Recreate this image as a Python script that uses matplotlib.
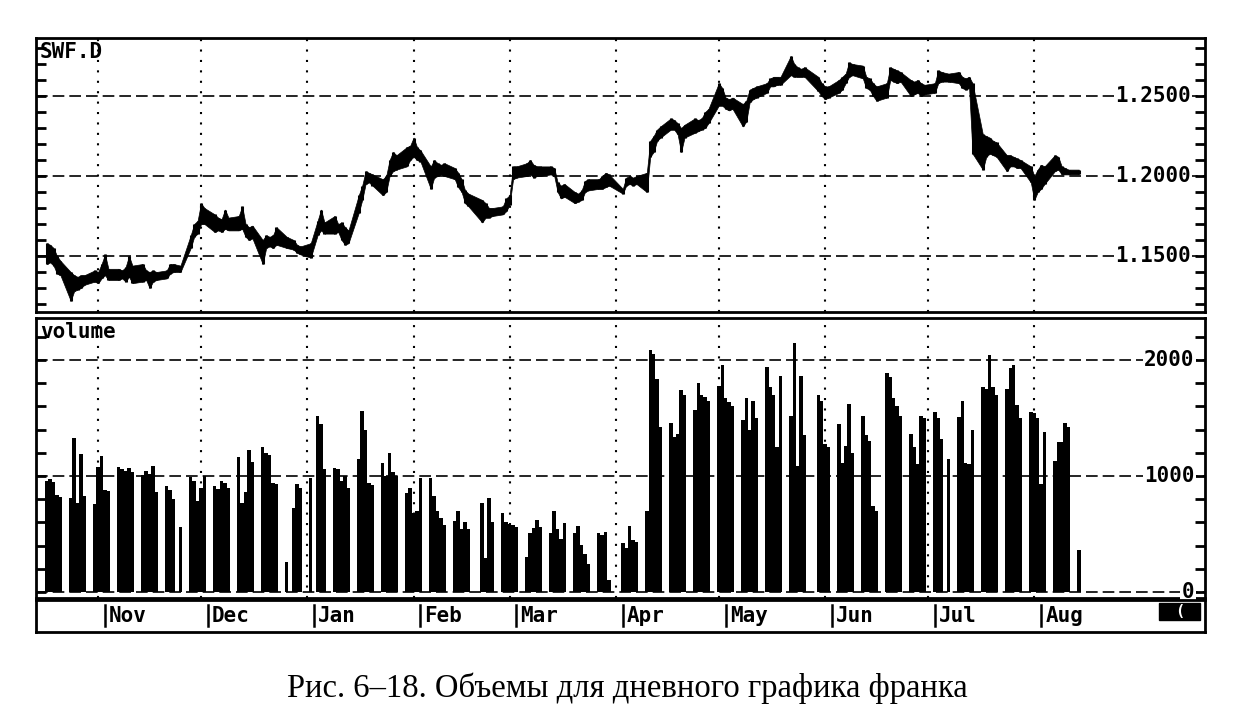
import numpy as np
import pandas as pd
import matplotlib.pyplot as plt
from matplotlib.patches import Rectangle

# daily bars, one row per week (Mon..Fri), SWF.D
lows = [
    1.145, 1.146, 1.144, 1.139, 1.138,
    1.122, 1.128, 1.129, 1.130, 1.132,
    1.134, 1.133, 1.136, 1.138, 1.135,
    1.135, 1.136, 1.134, 1.137, 1.133,
    1.134, 1.135, 1.130, 1.134, 1.135,
    1.136, 1.139, 1.140, 1.140, 1.140,
    1.155, 1.162, 1.164, 1.170, 1.170,
    1.165, 1.166, 1.165, 1.167, 1.166,
    1.166, 1.167, 1.162, 1.160, 1.161,
    1.145, 1.155, 1.156, 1.155, 1.157,
    1.155, 1.155, 1.154, 1.152, 1.151,
    1.149, 1.150, 1.163, 1.166, 1.164,
    1.164, 1.165, 1.160, 1.157, 1.158,
    1.177, 1.185, 1.195, 1.196, 1.194,
    1.188, 1.190, 1.200, 1.203, 1.204,
    1.206, 1.210, 1.212, 1.210, 1.209,
    1.192, 1.199, 1.200, 1.201, 1.200,
    1.198, 1.193, 1.190, 1.183, 1.181,
    1.172, 1.171, 1.174, 1.174, 1.175,
    1.176, 1.178, 1.182, 1.198, 1.199,
    1.200, 1.201, 1.199, 1.200, 1.200,
    1.201, 1.200, 1.190, 1.186, 1.187,
    1.183, 1.184, 1.185, 1.190, 1.191,
    1.192, 1.192, 1.193, 1.194, 1.193,
    1.189, 1.194, 1.195, 1.194, 1.195,
    1.190, 1.212, 1.215, 1.222, 1.224,
    1.229, 1.229, 1.226, 1.215, 1.224,
    1.227, 1.228, 1.229, 1.230, 1.233,
    1.244, 1.244, 1.242, 1.241, 1.242,
    1.231, 1.234, 1.246, 1.248, 1.249,
    1.252, 1.256, 1.256, 1.257, 1.257,
    1.263, 1.262, 1.262, 1.262, 1.262,
    1.262, 1.253, 1.250, 1.248, 1.249,
    1.252, 1.254, 1.258, 1.262, 1.263,
    1.261, 1.255, 1.254, 1.250, 1.247,
    1.249, 1.260, 1.259, 1.258, 1.259,
    1.250, 1.251, 1.252, 1.250, 1.251,
    1.252, 1.258, 1.259, 1.260, 1.259,
    1.258, 1.255, 1.254, 1.255, 1.214,
    1.204, 1.212, 1.214, 1.213, 1.212,
    1.203, 1.206, 1.206, 1.205, 1.205,
    1.196, 1.185, 1.190, 1.192, 1.195,
    1.203, 1.204, 1.201, 1.201, 1.201,
    1.201,
]
highs = [
    1.158, 1.157, 1.155, 1.150, 1.147,
    1.140, 1.138, 1.137, 1.138, 1.138,
    1.141, 1.140, 1.145, 1.151, 1.142,
    1.142, 1.141, 1.143, 1.150, 1.144,
    1.145, 1.141, 1.140, 1.141, 1.140,
    1.141, 1.145, 1.145, 1.145, 1.144,
    1.163, 1.170, 1.172, 1.183, 1.180,
    1.176, 1.174, 1.173, 1.179, 1.174,
    1.175, 1.181, 1.170, 1.168, 1.169,
    1.160, 1.163, 1.162, 1.163, 1.168,
    1.162, 1.161, 1.160, 1.157, 1.156,
    1.158, 1.158, 1.172, 1.179, 1.171,
    1.175, 1.170, 1.171, 1.168, 1.166,
    1.188, 1.194, 1.203, 1.202, 1.201,
    1.198, 1.200, 1.210, 1.215, 1.213,
    1.218, 1.219, 1.224, 1.218, 1.216,
    1.206, 1.210, 1.208, 1.207, 1.208,
    1.205, 1.202, 1.198, 1.191, 1.189,
    1.187, 1.185, 1.183, 1.180, 1.180,
    1.181, 1.186, 1.188, 1.206, 1.206,
    1.208, 1.210, 1.207, 1.206, 1.206,
    1.206, 1.205, 1.196, 1.194, 1.195,
    1.190, 1.189, 1.191, 1.197, 1.198,
    1.198, 1.200, 1.202, 1.201, 1.200,
    1.192, 1.199, 1.200, 1.199, 1.200,
    1.202, 1.222, 1.225, 1.229, 1.231,
    1.236, 1.235, 1.233, 1.230, 1.232,
    1.236, 1.235, 1.236, 1.240, 1.242,
    1.258, 1.255, 1.249, 1.248, 1.249,
    1.245, 1.247, 1.254, 1.255, 1.256,
    1.258, 1.261, 1.262, 1.262, 1.262,
    1.275, 1.270, 1.268, 1.267, 1.268,
    1.276, 1.262, 1.258, 1.256, 1.256,
    1.260, 1.262, 1.264, 1.271, 1.270,
    1.269, 1.262, 1.261, 1.258, 1.256,
    1.258, 1.268, 1.267, 1.266, 1.265,
    1.260, 1.259, 1.260, 1.258, 1.257,
    1.258, 1.266, 1.265, 1.266, 1.264,
    1.265, 1.262, 1.261, 1.262, 1.258,
    1.226, 1.225, 1.224, 1.222, 1.221,
    1.213, 1.213, 1.212, 1.211, 1.210,
    1.206, 1.200, 1.204, 1.207, 1.206,
    1.213, 1.212, 1.206, 1.205, 1.204,
    1.204,
]
volume = [
    960, 975, 950, 840, 820,
    810, 1330, 770, 1190, 830,
    760, 1080, 1170, 880, 870,
    1080, 1060, 1040, 1070, 1030,
    1010, 1040, 1020, 1090, 860,
    910, 880, 800, 0, 560,
    990, 960, 780, 900, 1000,
    910, 890, 960, 940, 900,
    1160, 770, 860, 1220, 1120,
    1250, 1200, 1180, 940, 930,
    260, 0, 720, 930, 900,
    980, 0, 1520, 1450, 1060,
    1070, 1060, 960, 1000, 900,
    1150, 1560, 1400, 940, 920,
    1110, 1000, 1200, 1030, 1000,
    855, 900, 680, 700, 985,
    985, 830, 700, 640, 580,
    610, 700, 540, 600, 540,
    0, 770, 290, 810, 600,
    680, 600, 590, 580, 560,
    300, 510, 550, 620, 560,
    510, 700, 540, 460, 595,
    510, 565, 405, 330, 245,
    510, 490, 520, 100, 0,
    420, 380, 565, 450, 430,
    700, 2090, 2050, 1840, 1420,
    1460, 1340, 1360, 1740, 1700,
    1570, 1800, 1700, 1680, 1650,
    1780, 1960, 1670, 1640, 1600,
    1480, 1670, 1400, 1650, 1500,
    1940, 1770, 1700, 1250, 1860,
    1520, 2150, 1090, 1860, 1350,
    0, 1700, 1650, 1280, 1250,
    1450, 1115, 1260, 1620, 1200,
    1520, 1350, 1300, 740, 700,
    1885, 1850, 1670, 1600, 1520,
    1360, 1250, 1100, 1520, 1500,
    1550, 1500, 1320, 0, 1150,
    1510, 1650, 1115, 1100, 1400,
    1770, 1750, 2045, 1770, 1700,
    1750, 1930, 1960, 1610, 1500,
    1550, 1540, 1500, 930, 1380,
    1130, 1290, 1290, 1460, 1420,
    360,
]
months = ["Nov", "Dec", "Jan", "Feb", "Mar", "Apr", "May", "Jun", "Jul", "Aug"]
price_labels = ["1.1500", "1.2000", "1.2500"]
price_levels = [1.15, 1.20, 1.25]
vol_labels = ["0", "1000", "2000"]
vol_levels = [0, 1000, 2000]

dates = pd.bdate_range("1990-10-15", periods=len(volume))
lows = np.array(lows)
highs = np.array(highs)
volume = np.array(volume)
traded = volume > 0

month_starts = pd.date_range("1990-11-01", periods=len(months), freq="MS")
grid_days = month_starts - pd.Timedelta(days=2)
x0 = pd.Timestamp("1990-10-11 21:00")
x1 = pd.Timestamp("1991-09-17 19:00")

mono = "DejaVu Sans Mono"
W, H = 1260, 720
left, right = 36, 1205

fig = plt.figure(figsize=(12.6, 7.2), dpi=100)
fig.patch.set_facecolor("white")
ax1 = fig.add_axes([left / W, 1 - 312 / H, (right - left) / W, (312 - 38) / H])
ax2 = fig.add_axes([left / W, 1 - 598 / H, (right - left) / W, (598 - 318) / H])
ax3 = fig.add_axes([left / W, 1 - 632 / H, (right - left) / W, (632 - 600) / H])

# price panel
px = dates[traded]
ax1.fill_between(px, lows[traded], highs[traded], color="black", lw=0.5)
ax1.vlines(px, lows[traded], highs[traded], color="black", lw=2.2)
ax1.set_ylim(1.115, 1.28625)
ax1.set_yticks(np.arange(1.12, 1.29, 0.01))
for lv, lb in zip(price_levels, price_labels):
    ax1.axhline(lv, color="black", lw=1.2, ls=(0, (7, 3)), zorder=0)
    ax1.text(0.988, lv, lb, transform=ax1.get_yaxis_transform(), ha="right", va="center",
             family=mono, weight="bold", fontsize=15,
             bbox=dict(facecolor="white", edgecolor="none", pad=1))
ax1.text(0.003, 0.985, "SWF.D", transform=ax1.transAxes, ha="left", va="top",
         family=mono, weight="bold", fontsize=15)

# volume panel
ax2.bar(dates, volume, width=1.0, color="black", lw=0)
ax2.set_ylim(-52, 2362)
ax2.set_yticks(np.arange(0, 2400, 200))
for lv, lb in zip(vol_levels, vol_labels):
    ax2.axhline(lv, color="black", lw=1.2, ls=(0, (7, 3)), zorder=0)
    ax2.text(0.991, lv, lb, transform=ax2.get_yaxis_transform(), ha="right", va="center",
             family=mono, weight="bold", fontsize=15,
             bbox=dict(facecolor="white", edgecolor="none", pad=1))
ax2.text(0.004, 0.985, "volume", transform=ax2.transAxes, ha="left", va="top",
         family=mono, weight="bold", fontsize=15)

for ax in (ax1, ax2):
    ax.set_xlim(x0, x1)
    ax.set_xticks([])
    for d in grid_days:
        ax.axvline(d, color="black", lw=1.5, ls=(0, (1, 4)), zorder=0)
    ax.tick_params(axis="y", which="both", direction="in", left=True, right=True,
                   labelleft=False, labelright=False, length=7, width=2)
    for s in ax.spines.values():
        s.set_linewidth(2)

# month strip
ax3.set_xlim(x0, x1)
ax3.set_ylim(0, 1)
ax3.set_xticks([])
ax3.set_yticks([])
for s in ax3.spines.values():
    s.set_linewidth(2)
for d, m in zip(month_starts, months):
    ax3.plot([d, d], [0.2, 0.85], color="black", lw=1.8)
    ax3.text(d + pd.Timedelta(days=1.2), 0.5, m, ha="left", va="center",
             family=mono, weight="bold", fontsize=15)
ax3.add_patch(Rectangle((0.961, 0.37), 0.035, 0.54, transform=ax3.transAxes,
                        color="black"))
ax3.text(0.978, 0.64, "(", transform=ax3.transAxes, ha="center", va="center",
         color="white", family=mono, weight="bold", fontsize=11)

fig.text(627 / W, 1 - 688 / H, "Рис. 6–18. Объемы для дневного графика франка",
         ha="center", va="center", family="Liberation Serif", fontsize=23.5)

fig.savefig("out.png", dpi=100)
